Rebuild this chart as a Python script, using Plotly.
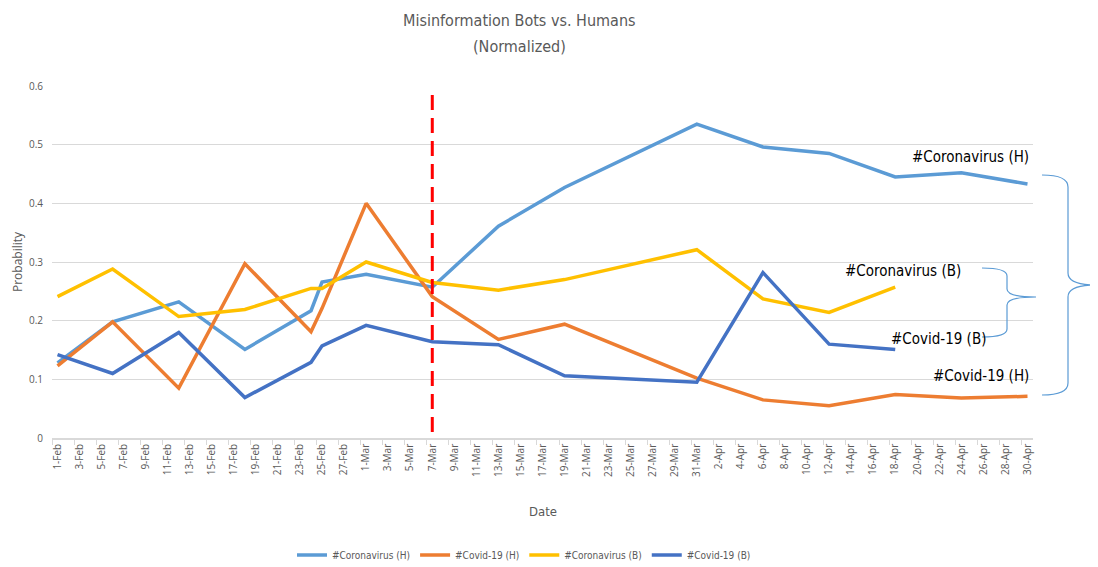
import plotly.graph_objects as go

# ---------------- data ----------------
dates_h = ["2021-02-01", "2021-02-06", "2021-02-12", "2021-02-18", "2021-02-24", "2021-02-25",
           "2021-03-01", "2021-03-07", "2021-03-13", "2021-03-19", "2021-03-31", "2021-04-06",
           "2021-04-12", "2021-04-18", "2021-04-24", "2021-04-30"]
dates_b = dates_h[:14]

corona_h = [0.128, 0.198, 0.232, 0.151, 0.217, 0.266, 0.279, 0.257, 0.361, 0.427, 0.535, 0.496,
            0.485, 0.445, 0.452, 0.433]
covid_h = [0.123, 0.198, 0.085, 0.297, 0.181, 0.221, 0.400, 0.241, 0.168, 0.194, 0.102, 0.065,
           0.055, 0.074, 0.068, 0.071]
corona_b = [0.241, 0.288, 0.207, 0.219, 0.255, 0.255, 0.300, 0.265, 0.252, 0.270, 0.321, 0.237,
            0.214, 0.257]
covid_b = [0.142, 0.110, 0.180, 0.069, 0.129, 0.157, 0.192, 0.164, 0.159, 0.106, 0.095, 0.282,
           0.160, 0.151]

series_names = ["#Coronavirus (H)", "#Covid-19 (H)", "#Coronavirus (B)", "#Covid-19 (B)"]
series_colors = ["#5B9BD5", "#ED7D31", "#FFC000", "#4472C4"]

tick_dates = ["2021-02-%02d" % d for d in range(1, 29, 2)] + \
             ["2021-03-%02d" % d for d in range(1, 32, 2)] + \
             ["2021-04-%02d" % d for d in range(2, 31, 2)]
month_abbr = {"02": "Feb", "03": "Mar", "04": "Apr"}
tick_labels = ["%d-%s" % (int(d[8:]), month_abbr[d[5:7]]) for d in tick_dates]

event_date = "2021-03-07"

# ---------------- layout helpers ----------------
# page offset: the browser puts the figure 8px in from the top-left corner
O = 8
W, H = 1098 - O, 567 - O
PLOT_LEFT, PLOT_RIGHT, PLOT_TOP, PLOT_BOTTOM = 52, 1033, 86, 438   # page pixels
L, R = PLOT_LEFT - O, W - (PLOT_RIGHT - O)
T, B = PLOT_TOP - O, H - (PLOT_BOTTOM - O)
PW, PH = W - L - R, H - T - B
NARROW = "Liberation Sans Narrow, DejaVu Sans Condensed, Arial Narrow, sans-serif"
GREY = "#595959"


def px(x):
    return (x - PLOT_LEFT) / PW


def py(y):
    return (PLOT_BOTTOM - y) / PH


def brace(x0, xm, xt, ytop, ymid, ybot, r):
    pts = [("M", [(x0, ytop)]),
           ("Q", [(xm, ytop), (xm, ytop + r)]),
           ("L", [(xm, ymid - r)]),
           ("Q", [(xm, ymid), (xt, ymid)]),
           ("Q", [(xm, ymid), (xm, ymid + r)]),
           ("L", [(xm, ybot - r)]),
           ("Q", [(xm, ybot), (x0, ybot)])]
    s = ""
    for cmd, pp in pts:
        s += cmd + " " + " ".join("%.5f,%.5f" % (px(a), py(b)) for a, b in pp) + " "
    return s.strip()


fig = go.Figure()
for name, color, xs, ys in zip(series_names, series_colors,
                               [dates_h, dates_h, dates_b, dates_b],
                               [corona_h, covid_h, corona_b, covid_b]):
    fig.add_trace(go.Scatter(x=xs, y=ys, name=name, mode="lines",
                             line=dict(color=color, width=3.5)))

shapes = [
    dict(type="line", xref="x", yref="paper", x0=event_date, x1=event_date,
         y0=py(432), y1=py(92), line=dict(color="#FF0000", width=3, dash="15px,8px")),
    dict(type="path", xref="paper", yref="paper",
         path=brace(1042, 1068, 1096, 175, 285, 395, 12),
         line=dict(color="#5B9BD5", width=1.2)),
    dict(type="path", xref="paper", yref="paper",
         path=brace(982, 1007, 1036, 268, 297, 337, 8),
         line=dict(color="#5B9BD5", width=1.2)),
]


def label(text, x, y, size, color, anchor="center"):
    return dict(text=text, x=px(x), y=py(y), xref="paper", yref="paper", xanchor=anchor,
                yanchor="middle", showarrow=False,
                font=dict(family=NARROW, size=size, color=color))


annotations = [
    label("Misinformation Bots vs. Humans", 519, 20, 16, GREY),
    label("(Normalized)", 519, 47, 16, GREY),
    label("#Coronavirus (H)", 1031, 157, 15, "#000000", "right"),
    label("#Coronavirus (B)", 963, 271, 15, "#000000", "right"),
    label("#Covid-19 (B)", 988, 339, 15, "#000000", "right"),
    label("#Covid-19 (H)", 1031, 376, 15, "#000000", "right"),
    label("Date", 543, 511, 13, GREY),
    dict(text="Probability", x=px(17), y=py(262), xref="paper", yref="paper", textangle=-90,
         xanchor="center", yanchor="middle", showarrow=False,
         font=dict(family="Open Sans, sans-serif", size=12, color=GREY)),
]

fig.update_layout(
    width=W, height=H,
    margin=dict(l=L, r=R, t=T, b=B, autoexpand=False),
    paper_bgcolor="white", plot_bgcolor="white",
    shapes=shapes, annotations=annotations,
    showlegend=True,
    legend=dict(orientation="h", x=px(524), xanchor="center", y=py(555), yanchor="middle",
                font=dict(family=NARROW, size=10, color=GREY), itemwidth=30,
                bgcolor="rgba(0,0,0,0)"),
    xaxis=dict(type="date", range=["2021-01-31 12:00", "2021-04-30 12:00"],
               tickmode="array", tickvals=tick_dates, ticktext=tick_labels,
               tickangle=-90, ticks="", showgrid=False,
               tickfont=dict(family="Open Sans, sans-serif", size=10, color=GREY),
               showline=True, linecolor="#D9D9D9", linewidth=1.5, zeroline=False,
               minor=dict(ticks="outside", ticklen=5, tickcolor="#D9D9D9",
                          tick0="2021-01-31 12:00", dtick=2 * 86400000, showgrid=False)),
    yaxis=dict(range=[0, 0.6], tickmode="array", tickvals=[0, 0.1, 0.2, 0.3, 0.4, 0.5, 0.6],
               ticktext=["0", "0.1", "0.2", "0.3", "0.4", "0.5", "0.6"],
               showgrid=True, gridcolor="#D9D9D9", gridwidth=1.2, zeroline=False,
               tickfont=dict(family="Open Sans, sans-serif", size=10, color=GREY),
               ticks="", ticklabelstandoff=8, showline=False),
)

fig.write_html("out.html")
